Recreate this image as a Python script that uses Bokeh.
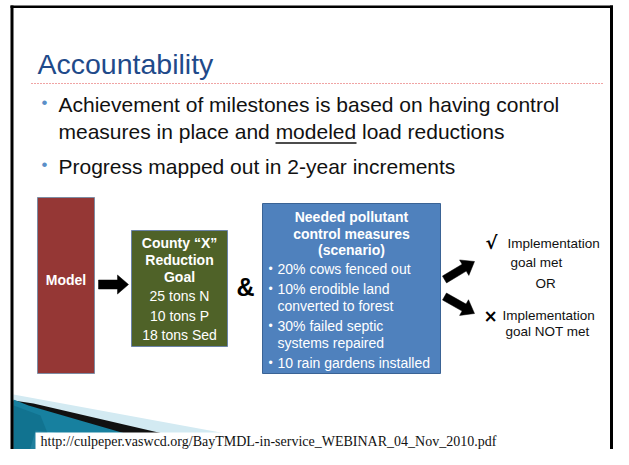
import math
from bokeh.plotting import figure
from bokeh.models import Range1d
from bokeh.core.properties import value
from bokeh.embed import file_html
from bokeh.resources import INLINE

# ---------------- content ----------------
TITLE = "Accountability"
BULLET_LINES = ["Achievement of milestones is based on having control",
                "measures in place and modeled load reductions",
                "Progress mapped out in 2-year increments"]
UNDERLINED_WORD = "modeled"
MODEL_LABEL = "Model"
GOAL_HEAD = ["County \u201cX\u201d", "Reduction", "Goal"]
GOAL_ITEMS = ["25 tons N", "10 tons P", "18 tons Sed"]
AMPERSAND = "&"
MEASURE_HEAD = ["Needed pollutant", "control measures", "(scenario)"]
MEASURE_ITEMS = [["20% cows fenced out"],
                 ["10% erodible land", "converted to forest"],
                 ["30% failed septic", "systems repaired"],
                 ["10 rain gardens installed"]]
OUTCOME_MET = ["Implementation", "goal met"]
OUTCOME_OR = "OR"
OUTCOME_NOT = ["Implementation", "goal NOT met"]
SOURCE_URL = "http://culpeper.vaswcd.org/BayTMDL-in-service_WEBINAR_04_Nov_2010.pdf"

SANS = "Liberation Sans"
SERIF = "Liberation Serif"

W, H = 613, 449
p = figure(width=W, height=H, x_range=Range1d(0, W), y_range=Range1d(H, 0),
           output_backend="svg", toolbar_location=None, min_border=0)
p.axis.visible = False
p.grid.visible = False
p.outline_line_color = None
p.background_fill_color = "white"
p.border_fill_color = "white"


def txt(x, y, s, size, color="black", bold=False, align="left", font=SANS):
    p.text(x=[x], y=[y], text=[s], text_font=value(font), text_font_size=value(f"{size}px"),
           text_font_style="bold" if bold else "normal", text_color=color,
           text_align=align, text_baseline="middle")


def box(l, r, t, b, fill, line):
    p.quad(left=[l], right=[r], top=[t], bottom=[b], fill_color=fill, line_color=line, line_width=1)


def arrow(x0, y0, x1, y1, hw, hl, hhw):
    dx, dy = x1 - x0, y1 - y0
    L = math.hypot(dx, dy)
    ux, uy = dx / L, dy / L
    nx, ny = -uy, ux
    bx, by = x1 - ux * hl, y1 - uy * hl
    xs = [x0 + nx * hw, bx + nx * hw, bx + nx * hhw, x1, bx - nx * hhw, bx - nx * hw, x0 - nx * hw]
    ys = [y0 + ny * hw, by + ny * hw, by + ny * hhw, y1, by - ny * hhw, by - ny * hw, y0 - ny * hw]
    p.patch(xs, ys, fill_color="black", line_color="black", line_width=0.5)


# ---------------- bottom swoosh ----------------
p.patch([13, 400, 13], [394, 465, 465], fill_color="#d3eaf2", line_color=None)
p.patch([13, 33, 300, 13], [400, 403, 465, 465], fill_color="#111111", line_color=None)
p.patch([13, 28, 235, 13], [399, 405, 465, 465], fill_color="#17809f", line_color=None)
p.patch([35, 120, 200, 25], [430, 440, 465, 465], fill_color="#4fb0d2", fill_alpha=0.55, line_color=None)
p.patch([13, 40, 60, 13], [405, 415, 465, 465], fill_color="#0b6582", fill_alpha=0.5, line_color=None)

# source box
box(35, 503, 432, 452, "white", None)
txt(40, 441, SOURCE_URL, 14, color="#111111", font=SERIF)

# ---------------- frame ----------------
p.quad(left=[10], right=[W], top=[5], bottom=[7.5], fill_color="black", line_color=None)
p.quad(left=[10], right=[13], top=[5], bottom=[465], fill_color="black", line_color=None)
p.quad(left=[W - 3.5], right=[W], top=[5], bottom=[465], fill_color="black", line_color=None)

# ---------------- title ----------------
txt(37, 63, TITLE, 28.5, color="#1f4a8a")
p.line([31, 603], [83, 83], line_color="#e04848", line_width=1, line_dash="1 2")

# ---------------- bullets ----------------
bullet_color = "#5a8fc8"
txt(44, 102, "\u2022", 17, color=bullet_color, align="center")
txt(44, 164, "\u2022", 17, color=bullet_color, align="center")
txt(58, 104, BULLET_LINES[0], 21, color="#111111")
txt(58, 131, BULLET_LINES[1], 21, color="#111111")
txt(58, 166, BULLET_LINES[2], 21, color="#111111")
p.line([275, 356], [142.5, 142.5], line_color="#111111", line_width=1.5)

# ---------------- Model box ----------------
box(37, 94, 197, 373, "#953735", "#7d8ca3")
txt(65.5, 279, MODEL_LABEL, 14, color="white", bold=True, align="center")

arrow(98, 284, 128, 284, 4.5, 11, 9.5)

# ---------------- Goal box ----------------
box(131, 227, 230, 346, "#4f6228", "#6b83a8")
gx = 179
for yy, s in zip([242, 259, 276], GOAL_HEAD):
    txt(gx, yy, s, 14, color="white", bold=True, align="center")
for yy, s in zip([295, 315, 334], GOAL_ITEMS):
    txt(gx, yy, s, 14, color="white", align="center")

txt(245, 286, AMPERSAND, 25, color="black", bold=True, align="center")

# ---------------- Measures box ----------------
box(262, 440, 203, 373, "#4f81bd", "#3a6395")
mx = 351
for yy, s in zip([216, 233, 249], MEASURE_HEAD):
    txt(mx, yy, s, 14, color="white", bold=True, align="center")
item_ys = [[268], [288, 305], [325, 342], [362]]
for ys, lines in zip(item_ys, MEASURE_ITEMS):
    for k, (yy, s) in enumerate(zip(ys, lines)):
        if k == 0:
            txt(268, yy, "\u2022", 12, color="white", align="left")
        txt(277, yy, s, 14, color="white", align="left")

# ---------------- outcomes ----------------
arrow(444, 279, 474, 261, 4, 12, 9)
arrow(444, 296, 474, 313, 4, 12, 9)

txt(491, 242, "\u221a", 18, color="black", bold=True, align="center", font="DejaVu Sans")
txt(507, 243, OUTCOME_MET[0], 13.5, color="#111111")
txt(510, 262, OUTCOME_MET[1], 13.5, color="#111111")
txt(545, 283, OUTCOME_OR, 13.5, color="#111111", align="center")
txt(490, 315, "\u00d7", 17, color="black", bold=True, align="center", font="DejaVu Sans")
txt(502, 315, OUTCOME_NOT[0], 13.5, color="#111111")
txt(505, 331, OUTCOME_NOT[1], 13.5, color="#111111")

open("out.html", "w").write(file_html(p, INLINE))
